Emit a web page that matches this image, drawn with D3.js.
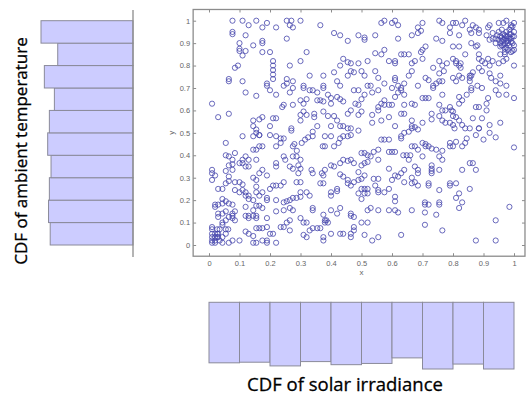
<!DOCTYPE html>
<html><head><meta charset="utf-8">
<script src="https://cdn.jsdelivr.net/npm/d3@7/dist/d3.min.js"></script>
<style>body{margin:0;background:#fff}svg{display:block}</style>
</head><body>
<svg id="c" width="526" height="398"></svg>
<script>
const tickValues = [0,0.1,0.2,0.3,0.4,0.5,0.6,0.7,0.8,0.9,1];
const xTickLabels = ["0","0.1","0.2","0.3","0.4","0.5","0.6","0.7","0.8","0.9","1"];
const yTickLabels = ["0","0.1","0.2","0.3","0.4","0.5","0.6","0.7","0.8","0.9","1"];
const binEdges = [0,0.1,0.2,0.3,0.4,0.5,0.6,0.7,0.8,0.9,1];
// counts per bin (bottom-to-top) of ambient temperature, and per bin (left-to-right) of solar irradiance
const tempCounts = [99,101,100,98,102,100,94,106,90,110];
const solarCounts = [98,97,103,96,101,99,90,108,100,108];
const xLabel = "x", yLabel = "y";
const tempTitle = "CDF of ambient temperature";
const solarTitle = "CDF of solar irradiance";
const points = [
[0.077,1.0],[0.11,1.0],[0.155,1.0],[0.13,0.98],[0.175,0.97],[0.19,0.99],[0.22,0.97],[0.255,1.0],[0.27,1.0],[0.30,1.0],[0.265,0.98],[0.275,0.97],[0.365,0.98],[0.565,0.99],[0.575,1.0],[0.60,0.99],[0.61,1.0],[0.62,0.98],[0.70,0.99],[0.685,0.97],[0.755,1.0],[0.765,0.99],[0.80,0.99],[0.81,0.99],[0.79,0.97],[0.84,1.0],[0.83,0.98],[0.865,0.98],[0.875,0.97],[0.885,0.96],[0.915,0.97],[0.92,0.98],[0.95,0.99],[0.965,0.99],[0.975,1.0],[0.99,0.98],[1.0,0.99],[0.995,0.975],
[0.077,0.95],[0.077,0.94],[0.12,0.935],[0.10,0.90],[0.145,0.89],[0.175,0.91],[0.175,0.90],[0.255,0.92],[0.41,0.945],[0.43,0.935],[0.455,0.91],[0.49,0.935],[0.51,0.925],[0.51,0.915],[0.545,0.935],[0.62,0.92],[0.665,0.935],[0.685,0.945],[0.695,0.955],[0.745,0.92],[0.765,0.91],[0.79,0.945],[0.82,0.935],[0.855,0.96],[0.86,0.945],[0.885,0.945],[0.91,0.935],[0.92,0.915],[0.93,0.945],[0.94,0.92],[0.955,0.90],[0.955,0.93],[0.96,0.91],[0.965,0.94],[0.965,0.89],[0.97,0.92],[0.97,0.90],[0.975,0.95],[0.975,0.88],[0.98,0.93],[0.98,0.91],[0.985,0.89],[0.985,0.96],[0.99,0.94],[0.99,0.92],[0.995,0.90],[1.0,0.95],[1.0,0.93],[1.0,0.89],[0.96,0.96],[0.95,0.95],[0.94,0.90],[0.93,0.92],[0.99,0.97],[0.975,0.91],[0.965,0.915],[0.955,0.885],[0.98,0.87],[0.97,0.86],[1.0,0.87],[0.99,0.86],
[0.96,0.925],[0.97,0.935],[0.98,0.90],[0.985,0.92],[0.99,0.905],[0.975,0.93],[0.96,0.89],[0.95,0.915],[0.945,0.935],[0.97,0.875],[0.985,0.94],[0.995,0.93],
[0.10,0.875],[0.10,0.865],[0.12,0.865],[0.11,0.845],[0.175,0.86],[0.20,0.86],[0.21,0.82],[0.21,0.80],[0.30,0.82],[0.32,0.86],[0.265,0.80],[0.085,0.79],[0.095,0.80],[0.455,0.815],[0.465,0.81],[0.44,0.83],[0.43,0.80],[0.49,0.81],[0.52,0.82],[0.545,0.855],[0.565,0.85],[0.575,0.87],[0.59,0.82],[0.61,0.82],[0.61,0.81],[0.63,0.85],[0.64,0.85],[0.655,0.85],[0.665,0.81],[0.675,0.82],[0.695,0.86],[0.70,0.87],[0.71,0.885],[0.70,0.83],[0.735,0.79],[0.755,0.82],[0.765,0.80],[0.78,0.81],[0.80,0.885],[0.82,0.885],[0.80,0.83],[0.81,0.82],[0.81,0.81],[0.82,0.80],[0.825,0.81],[0.825,0.79],[0.84,0.85],[0.875,0.885],[0.885,0.85],[0.885,0.83],[0.895,0.82],[0.905,0.81],[0.915,0.83],[0.92,0.80],[0.93,0.82],[0.95,0.81],[0.965,0.82],[0.975,0.83],[0.995,0.865],[1.0,0.80],[0.955,0.85],[0.97,0.85],[0.88,0.89],[0.86,0.90],[0.21,0.78],[0.21,0.76],
[0.065,0.74],[0.065,0.73],[0.11,0.73],[0.12,0.68],[0.19,0.72],[0.19,0.71],[0.20,0.69],[0.21,0.74],[0.22,0.67],[0.245,0.71],[0.255,0.74],[0.255,0.72],[0.275,0.73],[0.275,0.70],[0.265,0.68],[0.31,0.71],[0.31,0.70],[0.33,0.755],[0.375,0.755],[0.375,0.71],[0.375,0.70],[0.41,0.77],[0.42,0.73],[0.43,0.71],[0.455,0.755],[0.465,0.775],[0.475,0.77],[0.50,0.775],[0.51,0.755],[0.52,0.71],[0.53,0.71],[0.545,0.775],[0.555,0.745],[0.575,0.72],[0.60,0.70],[0.61,0.745],[0.61,0.735],[0.62,0.71],[0.63,0.70],[0.64,0.72],[0.655,0.755],[0.665,0.775],[0.685,0.71],[0.71,0.745],[0.72,0.735],[0.735,0.71],[0.735,0.70],[0.745,0.72],[0.755,0.73],[0.765,0.73],[0.755,0.765],[0.77,0.775],[0.765,0.67],[0.80,0.745],[0.81,0.73],[0.82,0.755],[0.83,0.745],[0.855,0.755],[0.855,0.745],[0.855,0.73],[0.86,0.755],[0.865,0.77],[0.86,0.70],[0.86,0.69],[0.885,0.79],[0.895,0.775],[0.92,0.765],[0.925,0.745],[0.94,0.73],[0.955,0.755],[0.955,0.72],[0.975,0.71],[0.975,0.67],[1.0,0.655],[0.895,0.70],[0.88,0.71],
[0.01,0.63],[0.03,0.57],[0.065,0.585],[0.155,0.665],[0.24,0.615],[0.245,0.625],[0.275,0.625],[0.30,0.645],[0.31,0.63],[0.32,0.65],[0.33,0.69],[0.34,0.69],[0.355,0.68],[0.355,0.645],[0.365,0.645],[0.375,0.64],[0.39,0.67],[0.40,0.655],[0.40,0.63],[0.42,0.66],[0.43,0.65],[0.44,0.64],[0.475,0.69],[0.49,0.69],[0.48,0.63],[0.49,0.625],[0.50,0.65],[0.51,0.67],[0.535,0.68],[0.555,0.69],[0.555,0.615],[0.565,0.63],[0.575,0.645],[0.575,0.625],[0.59,0.625],[0.60,0.625],[0.61,0.66],[0.62,0.68],[0.63,0.69],[0.64,0.67],[0.64,0.625],[0.665,0.63],[0.675,0.625],[0.70,0.655],[0.71,0.655],[0.72,0.655],[0.755,0.625],[0.765,0.60],[0.775,0.60],[0.79,0.615],[0.795,0.60],[0.80,0.595],[0.82,0.63],[0.83,0.645],[0.82,0.66],[0.845,0.67],[0.875,0.615],[0.885,0.615],[0.91,0.60],[0.91,0.63],[0.915,0.655],[0.95,0.67],[0.94,0.69],
[0.145,0.555],[0.145,0.53],[0.155,0.515],[0.165,0.56],[0.175,0.57],[0.155,0.50],[0.165,0.49],[0.20,0.53],[0.21,0.565],[0.22,0.565],[0.27,0.52],[0.27,0.51],[0.30,0.555],[0.30,0.58],[0.31,0.595],[0.32,0.58],[0.345,0.585],[0.345,0.57],[0.355,0.53],[0.375,0.595],[0.39,0.575],[0.40,0.53],[0.41,0.575],[0.42,0.555],[0.43,0.53],[0.44,0.53],[0.455,0.52],[0.465,0.52],[0.455,0.585],[0.465,0.60],[0.49,0.58],[0.50,0.595],[0.49,0.51],[0.535,0.58],[0.535,0.545],[0.555,0.60],[0.565,0.555],[0.59,0.57],[0.61,0.53],[0.63,0.585],[0.64,0.585],[0.665,0.555],[0.665,0.53],[0.675,0.525],[0.685,0.515],[0.70,0.545],[0.73,0.585],[0.73,0.56],[0.755,0.575],[0.765,0.555],[0.775,0.545],[0.79,0.545],[0.80,0.575],[0.80,0.535],[0.81,0.57],[0.82,0.555],[0.83,0.535],[0.84,0.52],[0.855,0.52],[0.865,0.565],[0.885,0.52],[0.895,0.565],[0.92,0.535],[0.955,0.545],[0.805,0.52],
[0.055,0.455],[0.055,0.40],[0.065,0.395],[0.085,0.41],[0.065,0.355],[0.077,0.36],[0.077,0.38],[0.11,0.485],[0.11,0.38],[0.10,0.365],[0.12,0.395],[0.13,0.38],[0.145,0.425],[0.155,0.425],[0.145,0.485],[0.165,0.49],[0.165,0.44],[0.155,0.38],[0.175,0.44],[0.20,0.49],[0.22,0.485],[0.22,0.44],[0.235,0.475],[0.245,0.475],[0.235,0.455],[0.245,0.395],[0.275,0.44],[0.28,0.45],[0.288,0.42],[0.304,0.455],[0.315,0.47],[0.325,0.48],[0.34,0.485],[0.34,0.505],[0.373,0.44],[0.38,0.44],[0.38,0.485],[0.40,0.485],[0.41,0.44],[0.425,0.455],[0.43,0.475],[0.44,0.485],[0.455,0.485],[0.465,0.49],[0.50,0.41],[0.51,0.41],[0.52,0.40],[0.54,0.415],[0.555,0.425],[0.565,0.47],[0.575,0.47],[0.59,0.47],[0.59,0.415],[0.60,0.415],[0.61,0.415],[0.63,0.485],[0.63,0.475],[0.64,0.50],[0.655,0.505],[0.665,0.52],[0.665,0.44],[0.675,0.44],[0.685,0.425],[0.70,0.455],[0.71,0.45],[0.71,0.44],[0.72,0.44],[0.73,0.43],[0.745,0.425],[0.765,0.42],[0.79,0.455],[0.79,0.44],[0.80,0.44],[0.81,0.46],[0.83,0.44],[0.84,0.455],[0.845,0.475],[0.875,0.49],[0.885,0.52],[0.90,0.47],[0.92,0.50],[0.94,0.48],[1.0,0.435],[0.637,0.40],[0.648,0.40],[0.66,0.40],
[0.01,0.335],[0.01,0.32],[0.01,0.29],[0.02,0.31],[0.03,0.25],[0.044,0.25],[0.055,0.33],[0.065,0.305],[0.077,0.335],[0.055,0.275],[0.065,0.285],[0.085,0.28],[0.11,0.365],[0.12,0.35],[0.13,0.35],[0.145,0.30],[0.155,0.29],[0.165,0.32],[0.175,0.335],[0.19,0.31],[0.22,0.365],[0.22,0.35],[0.25,0.38],[0.265,0.35],[0.275,0.34],[0.275,0.395],[0.287,0.395],[0.30,0.38],[0.293,0.355],[0.30,0.34],[0.293,0.32],[0.336,0.335],[0.34,0.32],[0.37,0.32],[0.375,0.31],[0.38,0.335],[0.375,0.275],[0.40,0.355],[0.41,0.35],[0.43,0.365],[0.44,0.38],[0.455,0.375],[0.465,0.38],[0.43,0.315],[0.44,0.305],[0.455,0.29],[0.475,0.365],[0.50,0.355],[0.51,0.365],[0.52,0.37],[0.53,0.395],[0.49,0.325],[0.51,0.31],[0.54,0.295],[0.555,0.295],[0.555,0.38],[0.59,0.34],[0.60,0.29],[0.61,0.31],[0.62,0.305],[0.63,0.32],[0.64,0.335],[0.655,0.38],[0.675,0.35],[0.665,0.30],[0.685,0.335],[0.685,0.32],[0.70,0.395],[0.73,0.355],[0.73,0.34],[0.73,0.33],[0.73,0.32],[0.755,0.335],[0.755,0.395],[0.765,0.38],[0.83,0.335],[0.855,0.365],[0.865,0.365],[0.875,0.335],
[0.044,0.205],[0.055,0.195],[0.065,0.185],[0.077,0.18],[0.02,0.18],[0.03,0.18],[0.044,0.185],[0.085,0.245],[0.10,0.235],[0.11,0.245],[0.12,0.235],[0.12,0.22],[0.13,0.22],[0.13,0.205],[0.145,0.20],[0.10,0.28],[0.11,0.27],[0.155,0.26],[0.155,0.235],[0.165,0.22],[0.175,0.235],[0.19,0.21],[0.19,0.20],[0.20,0.25],[0.21,0.265],[0.22,0.265],[0.235,0.265],[0.245,0.28],[0.22,0.20],[0.245,0.19],[0.255,0.195],[0.265,0.20],[0.275,0.21],[0.287,0.21],[0.30,0.215],[0.287,0.28],[0.30,0.28],[0.30,0.235],[0.32,0.235],[0.33,0.22],[0.365,0.275],[0.40,0.235],[0.40,0.22],[0.42,0.25],[0.42,0.24],[0.455,0.275],[0.465,0.265],[0.475,0.28],[0.49,0.29],[0.50,0.295],[0.50,0.25],[0.51,0.25],[0.52,0.25],[0.49,0.23],[0.51,0.23],[0.52,0.23],[0.50,0.205],[0.545,0.265],[0.555,0.245],[0.555,0.235],[0.575,0.235],[0.59,0.25],[0.61,0.215],[0.61,0.195],[0.64,0.28],[0.665,0.275],[0.675,0.28],[0.685,0.265],[0.72,0.275],[0.72,0.265],[0.755,0.245],[0.79,0.275],[0.79,0.265],[0.81,0.275],[0.82,0.23],[0.81,0.21],[0.855,0.25],[0.83,0.19],
[0.02,0.17],[0.03,0.14],[0.03,0.125],[0.044,0.14],[0.044,0.10],[0.044,0.09],[0.055,0.15],[0.055,0.11],[0.065,0.125],[0.077,0.14],[0.077,0.13],[0.085,0.15],[0.085,0.11],[0.077,0.12],[0.12,0.17],[0.12,0.13],[0.13,0.13],[0.145,0.13],[0.155,0.13],[0.13,0.12],[0.155,0.12],[0.145,0.155],[0.155,0.175],[0.165,0.175],[0.175,0.165],[0.19,0.12],[0.155,0.075],[0.165,0.075],[0.175,0.075],[0.19,0.08],[0.22,0.15],[0.245,0.155],[0.265,0.165],[0.275,0.155],[0.265,0.11],[0.255,0.10],[0.235,0.08],[0.245,0.08],[0.265,0.065],[0.30,0.12],[0.31,0.10],[0.32,0.10],[0.34,0.165],[0.34,0.155],[0.375,0.135],[0.38,0.11],[0.385,0.11],[0.38,0.10],[0.39,0.10],[0.40,0.155],[0.42,0.14],[0.43,0.165],[0.465,0.14],[0.465,0.13],[0.475,0.125],[0.50,0.10],[0.52,0.10],[0.52,0.155],[0.53,0.165],[0.555,0.155],[0.59,0.155],[0.61,0.155],[0.62,0.145],[0.665,0.155],[0.708,0.19],[0.708,0.18],[0.72,0.18],[0.755,0.19],[0.755,0.18],[0.708,0.145],[0.745,0.135],[0.708,0.09],[0.82,0.165],[0.94,0.11],[0.985,0.17],
[0.01,0.08],[0.01,0.07],[0.01,0.05],[0.01,0.035],[0.01,0.02],[0.01,0.01],[0.02,0.05],[0.02,0.035],[0.02,0.02],[0.02,0.01],[0.027,0.07],[0.027,0.05],[0.027,0.035],[0.03,0.05],[0.03,0.035],[0.035,0.07],[0.035,0.02],[0.044,0.035],[0.044,0.01],[0.055,0.05],[0.055,0.07],[0.063,0.07],[0.065,0.01],[0.077,0.02],[0.10,0.02],[0.12,0.06],[0.13,0.05],[0.145,0.04],[0.155,0.01],[0.145,0.01],[0.175,0.02],[0.19,0.02],[0.19,0.01],[0.20,0.05],[0.21,0.05],[0.22,0.01],[0.31,0.045],[0.32,0.035],[0.33,0.065],[0.34,0.075],[0.355,0.075],[0.365,0.075],[0.375,0.035],[0.375,0.02],[0.40,0.05],[0.43,0.05],[0.44,0.05],[0.465,0.05],[0.465,0.035],[0.475,0.065],[0.475,0.08],[0.51,0.045],[0.535,0.02],[0.555,0.035],[0.63,0.045],[0.765,0.065],[0.875,0.02],[0.94,0.02]
];

const svg = d3.select("#c");
const x = d3.scaleLinear().domain([0,1]).range([209,514]);
const y = d3.scaleLinear().domain([0,1]).range([245,20.7]);
const fx0 = x(-0.052), fx1 = x(1.036), fy0 = y(1.05), fy1 = y(-0.05);
const axisColor = "#8c8c8c", labColor = "#666";

// frame
svg.append("rect").attr("x",fx0).attr("y",fy0).attr("width",fx1-fx0).attr("height",fy1-fy0)
  .attr("fill","none").attr("stroke",axisColor).attr("stroke-width",1.3);

function styleAxis(g){
  g.select(".domain").remove();
  g.selectAll(".tick line").attr("stroke",axisColor).attr("stroke-width",1);
  g.selectAll(".tick text").attr("fill",labColor).attr("font-family","'Liberation Sans', Arial, sans-serif").attr("font-size",7.5);
}
svg.append("g").attr("transform",`translate(0,${fy1})`)
  .call(d3.axisBottom(x).tickValues(tickValues).tickSize(-3).tickPadding(4).tickFormat((d,i)=>xTickLabels[i])).call(styleAxis);
svg.append("g").attr("transform",`translate(0,${fy0})`)
  .call(d3.axisTop(x).tickValues(tickValues).tickSize(-3).tickFormat("")).call(styleAxis);
svg.append("g").attr("transform",`translate(${fx0},0)`)
  .call(d3.axisLeft(y).tickValues(tickValues).tickSize(-3).tickPadding(3).tickFormat((d,i)=>yTickLabels[i])).call(styleAxis);
svg.append("g").attr("transform",`translate(${fx1},0)`)
  .call(d3.axisRight(y).tickValues(tickValues).tickSize(-3).tickFormat("")).call(styleAxis);

svg.append("text").attr("x",x(0.5)).attr("y",275).attr("text-anchor","middle")
  .attr("font-family","'Liberation Sans', Arial, sans-serif").attr("font-size",8).attr("fill",labColor).text(xLabel);
svg.append("text").attr("transform",`translate(174,${y(0.5)}) rotate(-90)`).attr("text-anchor","middle")
  .attr("font-family","'Liberation Sans', Arial, sans-serif").attr("font-size",8).attr("fill",labColor).text(yLabel);

// scatter
svg.append("g").selectAll("circle").data(points).join("circle")
  .attr("cx",d=>x(d[0])).attr("cy",d=>y(d[1])).attr("r",2.6)
  .attr("fill","none").attr("stroke","#4646ac").attr("stroke-opacity",0.8).attr("stroke-width",1);

// left histogram (ambient temperature)
const hx = d3.scaleLinear().domain([0,110]).range([133,41]);
const bins = tempCounts.map((c,i)=>({lo:binEdges[i],hi:binEdges[i+1],c}));
svg.append("g").selectAll("rect").data(bins).join("rect")
  .attr("x",d=>hx(d.c)).attr("width",d=>hx(0)-hx(d.c))
  .attr("y",d=>y(d.hi)).attr("height",d=>y(d.lo)-y(d.hi))
  .attr("fill","#ccccff").attr("stroke","#8a8a9a").attr("stroke-width",1);
svg.append("line").attr("x1",hx(0)).attr("x2",hx(0)).attr("y1",10).attr("y2",257)
  .attr("stroke",axisColor).attr("stroke-width",1.3);

// bottom histogram (solar irradiance)
const hy = d3.scaleLinear().domain([0,108]).range([302.3,369]);
const sbins = solarCounts.map((c,i)=>({lo:binEdges[i],hi:binEdges[i+1],c}));
svg.append("g").selectAll("rect").data(sbins).join("rect")
  .attr("x",d=>x(d.lo)).attr("width",d=>x(d.hi)-x(d.lo))
  .attr("y",hy(0)).attr("height",d=>hy(d.c)-hy(0))
  .attr("fill","#ccccff").attr("stroke","#8a8a9a").attr("stroke-width",1);

// titles
svg.append("text").attr("x",345).attr("y",391).attr("text-anchor","middle")
  .attr("font-family","'Open Sans', sans-serif").attr("font-size",18.5).attr("fill","#000")
  .attr("stroke","#000").attr("stroke-width",0.3).text(solarTitle);
svg.append("text").attr("transform",`translate(27,151) rotate(-90)`).attr("text-anchor","middle")
  .attr("font-family","'Open Sans', sans-serif").attr("font-size",17).attr("fill","#000")
  .attr("stroke","#000").attr("stroke-width",0.3).text(tempTitle);
</script>
</body></html>
